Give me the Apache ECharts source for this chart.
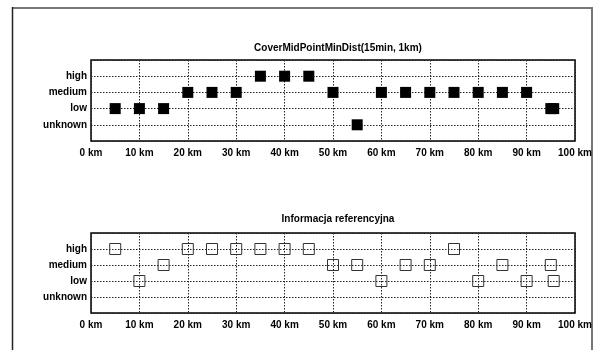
<!DOCTYPE html>
<html>
<head>
<meta charset="utf-8">
<script src="https://cdn.jsdelivr.net/npm/echarts@6/dist/echarts.min.js"></script>
<style>
  html, body { margin: 0; padding: 0; background: #fff; }
  #chart { width: 601px; height: 350px; }
</style>
</head>
<body>
<div id="chart"></div>
<script>
// Quality levels, bottom to top on the y axis (value 1..4)
const levels = ['unknown', 'low', 'medium', 'high'];

// Distance ticks (km)
const xTicks = [0, 10, 20, 30, 40, 50, 60, 70, 80, 90, 100];

// CoverMidPointMinDist(15min, 1km)
const coverKm = [5, 10, 15, 20, 25, 30, 35, 40, 45, 50, 55, 60, 65, 70, 75, 80, 85, 90, 95, 95.6];
const coverLevel = ['low', 'low', 'low', 'medium', 'medium', 'medium', 'high', 'high', 'high', 'medium',
                    'unknown', 'medium', 'medium', 'medium', 'medium', 'medium', 'medium', 'medium', 'low', 'low'];

// Informacja referencyjna
const refKm = [5, 10, 15, 20, 25, 30, 35, 40, 45, 50, 55, 60, 65, 70, 75, 80, 85, 90, 95, 95.6];
const refLevel = ['high', 'low', 'medium', 'high', 'high', 'high', 'high', 'high', 'high', 'medium',
                  'medium', 'low', 'medium', 'medium', 'high', 'low', 'medium', 'low', 'medium', 'low'];

const toPoints = (km, lv) => km.map((k, i) => [k, levels.indexOf(lv[i]) + 1]);

const labelFont = { fontFamily: 'Liberation Sans, Arial, sans-serif', fontWeight: 'bold', fontSize: 10, color: '#000' };

function xAxis(gridIndex) {
  return {
    type: 'value', gridIndex, min: 0, max: 100, interval: 10,
    axisLine: { show: false },
    axisTick: { show: false },
    axisLabel: Object.assign({ margin: 7, formatter: v => xTicks.includes(v) ? v + ' km' : '' }, labelFont),
    splitLine: { show: true, lineStyle: { color: '#222', type: [1.5, 1.5], width: 1 } }
  };
}
function yAxis(gridIndex) {
  return {
    type: 'value', gridIndex, min: 0, max: 5, interval: 1,
    axisLine: { show: false },
    axisTick: { show: false },
    axisLabel: Object.assign({ margin: 4, formatter: v => (v >= 1 && v <= 4) ? levels[v - 1] : '' }, labelFont),
    splitLine: { show: true, lineStyle: { color: '#222', type: [1.5, 1.5], width: 1 } }
  };
}

const chart = echarts.init(document.getElementById('chart'), null, { renderer: 'canvas' });
chart.setOption({
  animation: false,
  backgroundColor: '#fff',
  title: [
    { text: 'CoverMidPointMinDist(15min, 1km)', left: 333, top: 38, textAlign: 'center',
      textStyle: Object.assign({}, labelFont) },
    { text: 'Informacja referencyjna', left: 333, top: 209, textAlign: 'center',
      textStyle: Object.assign({}, labelFont) }
  ],
  grid: [
    { left: 91, top: 60, width: 484, height: 81, show: true, borderColor: '#000', borderWidth: 1.5, backgroundColor: 'transparent' },
    { left: 91, top: 233, width: 484, height: 80, show: true, borderColor: '#000', borderWidth: 1.5, backgroundColor: 'transparent' }
  ],
  xAxis: [xAxis(0), xAxis(1)],
  yAxis: [yAxis(0), yAxis(1)],
  series: [
    {
      type: 'scatter', xAxisIndex: 0, yAxisIndex: 0, symbol: 'rect', symbolSize: 11,
      itemStyle: { color: '#000', opacity: 1 },
      data: toPoints(coverKm, coverLevel), z: 5
    },
    {
      type: 'scatter', xAxisIndex: 1, yAxisIndex: 1, symbol: 'rect', symbolSize: 11,
      itemStyle: { color: 'transparent', borderColor: '#333', borderWidth: 1, opacity: 1 },
      data: toPoints(refKm, refLevel), z: 5
    }
  ],
  graphic: [
    // page frame: dark left edge, grey top and right edges
    { type: 'polyline', silent: true, shape: { points: [[12.5, 8], [592, 8], [592, 350]] },
      style: { stroke: '#777', lineWidth: 2, fill: null } },
    { type: 'line', silent: true, shape: { x1: 12.5, y1: 7, x2: 12.5, y2: 350 },
      style: { stroke: '#222', lineWidth: 1.5 } }
  ]
});
</script>
</body>
</html>
